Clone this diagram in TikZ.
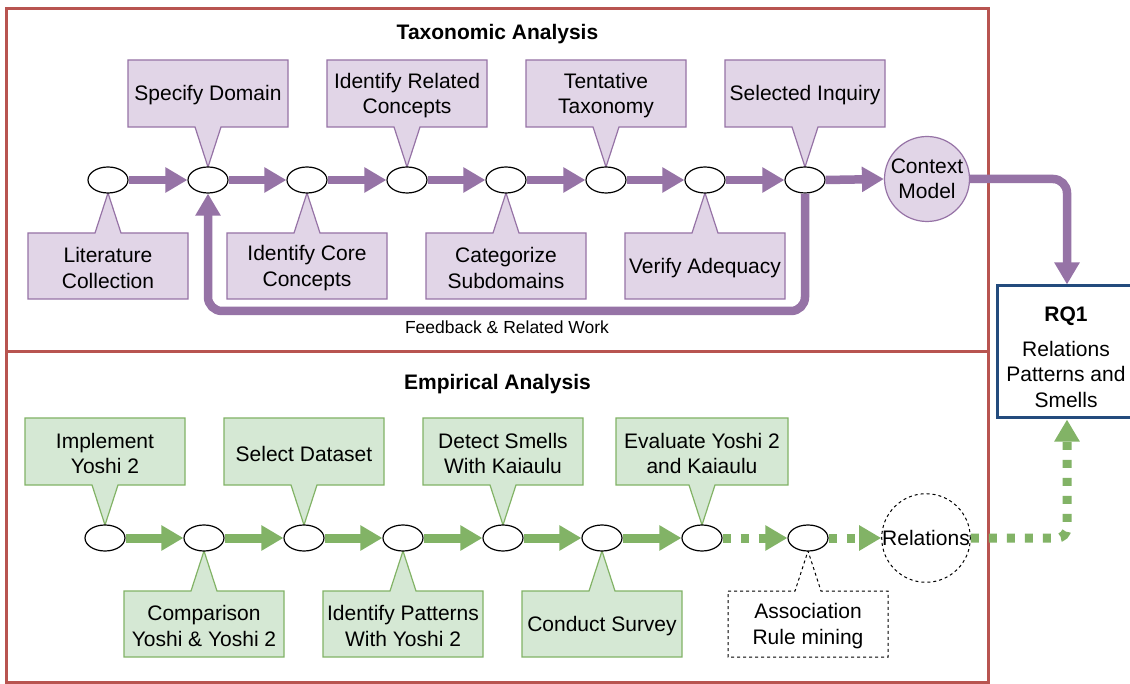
\documentclass[tikz,border=0pt]{standalone}
\usepackage{fontspec}
\setmainfont{Liberation Sans}
\usetikzlibrary{arrows.meta,shapes.geometric}

\definecolor{frameRed}{HTML}{B85450}
\definecolor{pFill}{HTML}{E1D5E7}
\definecolor{pLine}{HTML}{9673A6}
\definecolor{gFill}{HTML}{D5E8D4}
\definecolor{gLine}{HTML}{82B366}
\definecolor{rqBlue}{RGB}{35,75,125}

\newcommand{\diagfont}{\fontsize{21}{25.5}\selectfont}
\newcommand{\notefont}{\fontsize{17.5}{21}\selectfont}

% callout: name, centre x, half width, box top, box bottom, pointer apex y, style, text
\newcommand{\CallAbove}[8]{%
  \path[#7] ({#2-#3},#4) -- ({#2+#3},#4) -- ({#2+#3},#5) -- ({#2+13},#5)
    -- (#2,#6) -- ({#2-13},#5) -- ({#2-#3},#5) -- cycle;
  \node[calltext] (#1) at (#2,{(#4+#5)/2}) {#8};
}
\newcommand{\CallBelow}[8]{%
  \path[#7] ({#2-#3},#4) -- ({#2-13},#4) -- (#2,#6) -- ({#2+13},#4)
    -- ({#2+#3},#4) -- ({#2+#3},#5) -- ({#2-#3},#5) -- cycle;
  \node[calltext] (#1) at (#2,{(#4+#5)/2}) {#8};
}

\begin{document}
\begin{tikzpicture}[x=1pt,y=-1pt,
  frame/.style={draw=frameRed,line width=3pt},
  stage/.style={ellipse,draw=black,line width=1.2pt,fill=white,
    minimum width=40pt,minimum height=26pt,inner sep=0pt},
  calloutP/.style={fill=pFill,draw=pLine,line width=1.2pt},
  calloutG/.style={fill=gFill,draw=gLine,line width=1.2pt},
  calloutD/.style={fill=white,draw=black,line width=1pt,dash pattern=on 3pt off 3pt},
  calltext/.style={align=center,font=\diagfont,inner sep=0pt,yshift=-2pt},
  title/.style={font=\diagfont\bfseries,inner sep=0pt,yshift=-2pt},
  flowP/.style={draw=pLine,line width=8.5pt,-{Triangle[length=22pt,width=24pt]}},
  flowG/.style={draw=gLine,line width=9pt,-{Triangle[length=22pt,width=24pt]}},
  flowGd/.style={flowG,dash pattern=on 8pt off 10pt},
]
\useasboundingbox (0,0) rectangle (1130,684);
\fill[white] (0,0) rectangle (1130,684);

% section frames
\draw[frame] (6.5,8.5) rectangle (988,352);
\draw[frame] (6.5,352) rectangle (988,682.5);
\node[title] (tTax) at (497.5,32) {Taxonomic Analysis};
\node[title] (tEmp) at (497.5,382) {Empirical Analysis};

% ---------- taxonomic analysis ----------
\CallAbove{cSpec}{208}{80}{60}{127}{167}{calloutP}{Specify Domain}
\CallAbove{cRel}{407}{80}{60}{127}{167}{calloutP}{Identify Related\\Concepts}
\CallAbove{cTent}{606}{80}{60}{127}{167}{calloutP}{Tentative\\Taxonomy}
\CallAbove{cSel}{805}{80}{60}{127}{167}{calloutP}{Selected Inquiry}
\CallBelow{cLit}{108}{80}{233}{299}{193}{calloutP}{Literature\\Collection}
\CallBelow{cCore}{307}{80}{233}{299}{193}{calloutP}{Identify Core\\Concepts}
\CallBelow{cCat}{506}{80}{233}{299}{193}{calloutP}{Categorize\\Subdomains}
\CallBelow{cVer}{705}{80}{233}{299}{193}{calloutP}{Verify Adequacy}

\foreach \i/\x in {1/108,2/208,3/307,4/407,5/506,6/606,7/705,8/805}
  \node[stage] (e\i) at (\x,180) {};
\node[circle,fill=pFill,draw=pLine,line width=1.2pt,minimum size=85pt,
  inner sep=0pt,align=center,font=\diagfont] (ctx) at (927,179) {Context\\Model};

\foreach \a/\b in {1/2,2/3,3/4,4/5,5/6,6/7,7/8}
  \draw[flowP] (e\a.east) -- (e\b.west);
\draw[flowP] (e8.east) -- (ctx.west);
\draw[flowP,rounded corners=14pt] (e8.south) -- (805,311) -- (208,311) -- (e2.south);
\node[font=\notefont,inner sep=0pt] (fb) at (507,327) {Feedback \& Related Work};

% ---------- research question ----------
\node[draw=rqBlue,line width=3pt,fill=white,minimum width=140pt,minimum height=132pt,
  inner sep=0pt] (rq) at (1067,352) {};
\node[title] (rqT) at (1066,314) {RQ1};
\node[calltext] (rqL) at (1066,372) {Relations\\Patterns and\\Smells};
\draw[flowP,rounded corners=14pt] (ctx.east) -| (rq.north);

% ---------- empirical analysis ----------
\CallAbove{cImp}{105}{80}{418}{485}{525}{calloutG}{Implement\\Yoshi 2}
\CallAbove{cData}{304}{80}{418}{485}{525}{calloutG}{Select Dataset}
\CallAbove{cDet}{503}{80}{418}{485}{525}{calloutG}{Detect Smells\\With Kaiaulu}
\CallAbove{cEval}{702}{86}{418}{485}{525}{calloutG}{Evaluate Yoshi 2\\and Kaiaulu}
\CallBelow{cComp}{204}{80}{591}{657}{551}{calloutG}{Comparison\\Yoshi \& Yoshi 2}
\CallBelow{cPat}{403}{80}{591}{657}{551}{calloutG}{Identify Patterns\\With Yoshi 2}
\CallBelow{cSurv}{602}{80}{591}{657}{551}{calloutG}{Conduct Survey}
\CallBelow{cAssoc}{808}{80}{591}{657}{551}{calloutD}{Association\\Rule mining}

\foreach \i/\x in {1/105,2/204,3/304,4/403,5/503,6/602,7/702,8/808}
  \node[stage] (g\i) at (\x,538) {};
\node[circle,draw=black,line width=1pt,dash pattern=on 3pt off 3pt,minimum size=88pt,
  inner sep=0pt,font=\diagfont] (rel) at (926,538) {Relations};

\foreach \a/\b in {1/2,2/3,3/4,4/5,5/6,6/7}
  \draw[flowG] (g\a.east) -- (g\b.west);
\draw[flowGd] (g7.east) -- (g8.west);
\draw[flowGd] (g8.east) -- (rel.west);
\draw[flowGd,rounded corners=10pt] (rel.east) -| (rq.south);
\end{tikzpicture}
\end{document}
